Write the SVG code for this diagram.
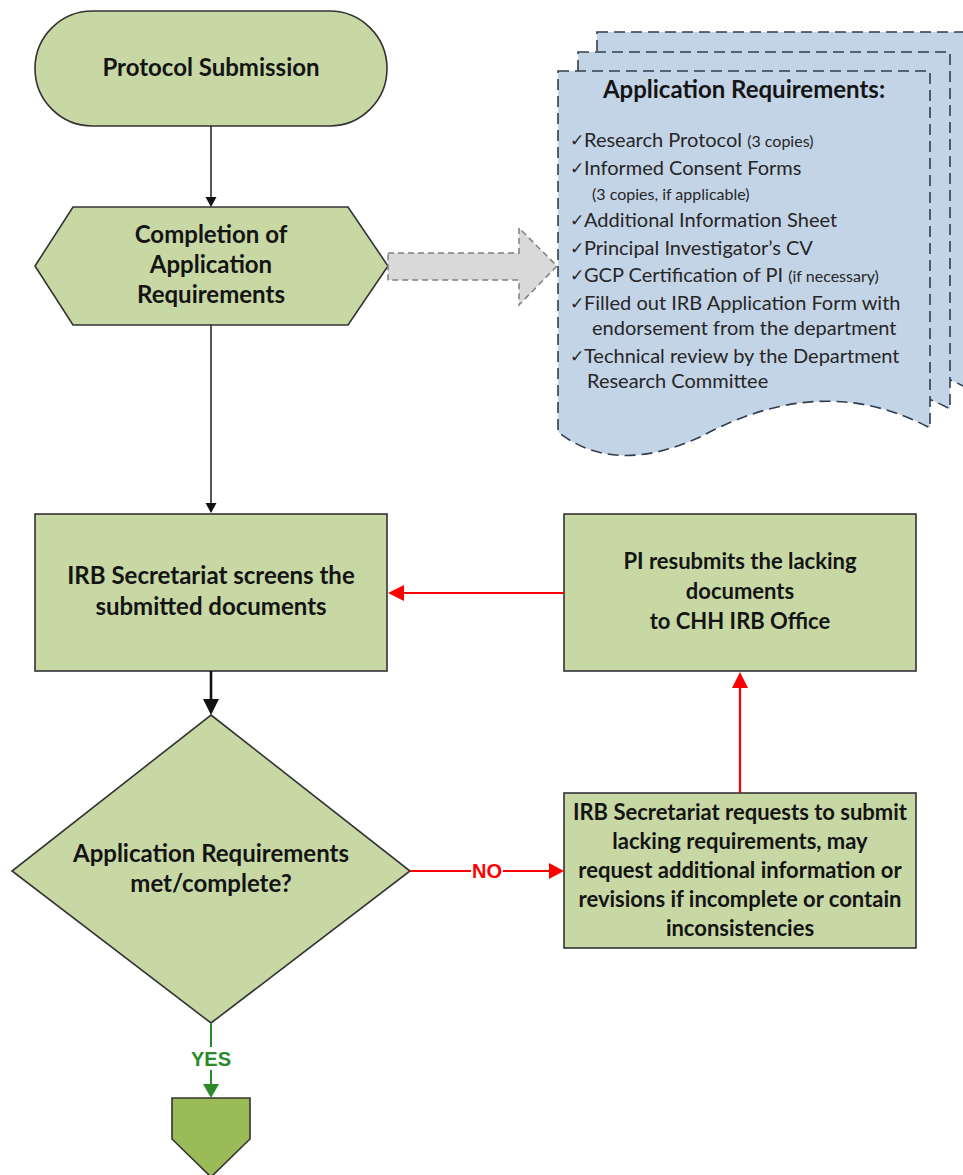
<svg xmlns="http://www.w3.org/2000/svg" xmlns:xlink="http://www.w3.org/1999/xlink" width="963" height="1175" viewBox="0 0 963 1175">
  <style>
    .node { fill: #c8d8a4; stroke: #333333; stroke-width: 1.6; }
    .label { font-family: Lato, "Liberation Sans", sans-serif; font-weight: 700; font-size: 24px; fill: #141414; text-anchor: middle; }
    .label-sm { font-size: 22px; }
    .doc { fill: #c4d4e7; stroke: #2f3d4f; stroke-width: 1.6; stroke-dasharray: 11 6; }
    .doc-title { font-family: Lato, "Liberation Sans", sans-serif; font-weight: 700; font-size: 24px; fill: #141414; text-anchor: middle; }
    .item { font-family: Lato, "Liberation Sans", sans-serif; font-size: 20px; fill: #262626; }
    .small { font-size: 16px; }
    .tick { font-family: "DejaVu Sans", sans-serif; font-size: 17px; fill: #262626; }
    .flow { stroke: #111111; fill: none; }
    .head { fill: #111111; }
    .red { stroke: #ff0000; stroke-width: 2.2; fill: none; }
    .red-head { fill: #ff0000; }
    .green { stroke: #2a8a2a; stroke-width: 2; fill: none; }
    .green-head { fill: #2a8a2a; }
    .edge-label { font-family: "Liberation Sans", Arial, sans-serif; font-weight: 700; font-size: 20px; text-anchor: middle; }
  </style>
  <defs>
    <!-- document sheet with wavy lower edge -->
    <path id="sheet" d="M558,71 H930 V428 C840,380 760,405 700,437 C650,460 600,465 558,432 Z"/>
  </defs>

  <rect width="963" height="1175" fill="#ffffff"/>

  <!-- stacked requirement sheets -->
  <g id="requirements-doc">
    <use xlink:href="#sheet" class="doc" transform="translate(39,-39)"/>
    <use xlink:href="#sheet" class="doc" transform="translate(20,-19)"/>
    <use xlink:href="#sheet" class="doc"/>
    <text class="doc-title" x="744" y="98">Application Requirements:</text>
    <text class="tick" x="570" y="146">✓</text>
    <text class="item" x="584" y="147">Research Protocol <tspan class="small">(3 copies)</tspan></text>
    <text class="tick" x="570" y="174">✓</text>
    <text class="item" x="584" y="175">Informed Consent Forms</text>
    <text class="item small" x="592" y="200">(3 copies, if applicable)</text>
    <text class="tick" x="570" y="226">✓</text>
    <text class="item" x="584" y="227">Additional Information Sheet</text>
    <text class="tick" x="570" y="254">✓</text>
    <text class="item" x="584" y="255">Principal Investigator’s CV</text>
    <text class="tick" x="570" y="281">✓</text>
    <text class="item" x="584" y="282">GCP Certification of PI <tspan class="small">(if necessary)</tspan></text>
    <text class="tick" x="570" y="309">✓</text>
    <text class="item" x="584" y="310">Filled out IRB Application Form with</text>
    <text class="item" x="592" y="335">endorsement from the department</text>
    <text class="tick" x="570" y="362">✓</text>
    <text class="item" x="584" y="363">Technical review by the Department</text>
    <text class="item" x="587" y="388">Research Committee</text>
  </g>

  <g id="protocol-submission">
    <rect class="node" x="35" y="11" width="352" height="115" rx="57.5" ry="57.5"/>
    <text class="label" x="211" y="76">Protocol Submission</text>
  </g>

  <g id="completion">
    <polygon class="node" points="73,207 348,207 388,266 348,325 73,325 35,266"/>
    <text class="label" x="211" y="243">Completion of</text>
    <text class="label" x="211" y="273">Application</text>
    <text class="label" x="211" y="303">Requirements</text>
  </g>

  <g id="screening">
    <rect class="node" x="35" y="514" width="352" height="157"/>
    <text class="label" x="211" y="584">IRB Secretariat screens the</text>
    <text class="label" x="211" y="615">submitted documents</text>
  </g>

  <g id="resubmit">
    <rect class="node" x="564" y="514" width="352" height="157"/>
    <text class="label label-sm" x="740" y="569">PI resubmits the lacking</text>
    <text class="label label-sm" x="740" y="599">documents</text>
    <text class="label label-sm" x="740" y="629">to CHH IRB Office</text>
  </g>

  <g id="decision">
    <polygon class="node" points="211,715 410,871 211,1023 12,871"/>
    <text class="label" x="211" y="862">Application Requirements</text>
    <text class="label" x="211" y="892">met/complete?</text>
  </g>

  <g id="request-lacking">
    <rect class="node" x="564" y="793" width="352" height="155"/>
    <text class="label label-sm" x="740" y="820">IRB Secretariat requests to submit</text>
    <text class="label label-sm" x="740" y="849">lacking requirements, may</text>
    <text class="label label-sm" x="740" y="878">request additional information or</text>
    <text class="label label-sm" x="740" y="907">revisions if incomplete or contain</text>
    <text class="label label-sm" x="740" y="936">inconsistencies</text>
  </g>

  <g id="off-page">
    <polygon points="172,1098 250,1098 250,1139 211,1177 172,1139" fill="#9bbb59" stroke="#333333" stroke-width="1.6"/>
  </g>

  <g id="connectors">
    <!-- protocol submission to completion -->
    <line class="flow" x1="211" y1="126" x2="211" y2="198" stroke-width="1.4"/>
    <polygon class="head" points="205.5,197 216.5,197 211,207"/>
    <!-- completion to screening -->
    <line class="flow" x1="211" y1="325" x2="211" y2="504" stroke-width="1.4"/>
    <polygon class="head" points="205.5,503 216.5,503 211,513"/>
    <!-- completion hands off to the requirement sheets -->
    <polygon points="388,253 519,253 519,228 557,266 519,305 519,280 388,280" fill="#d9d9d9" stroke="#7f7f7f" stroke-width="1.5" stroke-dasharray="6 4"/>
    <!-- screening to decision -->
    <line class="flow" x1="211" y1="671" x2="211" y2="700" stroke-width="2.6"/>
    <polygon class="head" points="203,699 219,699 211,715"/>
    <!-- resubmission back to screening -->
    <line class="red" x1="564" y1="593" x2="403" y2="593"/>
    <polygon class="red-head" points="404,585 404,601 388,593"/>
    <!-- lacking requirements to resubmission -->
    <line class="red" x1="740" y1="793" x2="740" y2="687"/>
    <polygon class="red-head" points="732,688 748,688 740,672"/>
    <!-- NO branch -->
    <line class="red" x1="410" y1="871" x2="471" y2="871"/>
    <line class="red" x1="503" y1="871" x2="550" y2="871"/>
    <polygon class="red-head" points="549,863 549,879 564,871"/>
    <text class="edge-label" x="487" y="878" fill="#ff0000">NO</text>
    <!-- YES branch -->
    <line class="green" x1="211" y1="1023" x2="211" y2="1047"/>
    <line class="green" x1="211" y1="1070" x2="211" y2="1085"/>
    <polygon class="green-head" points="203,1084 219,1084 211,1098"/>
    <text class="edge-label" x="211" y="1066" fill="#2a8a2a">YES</text>
  </g>
</svg>
